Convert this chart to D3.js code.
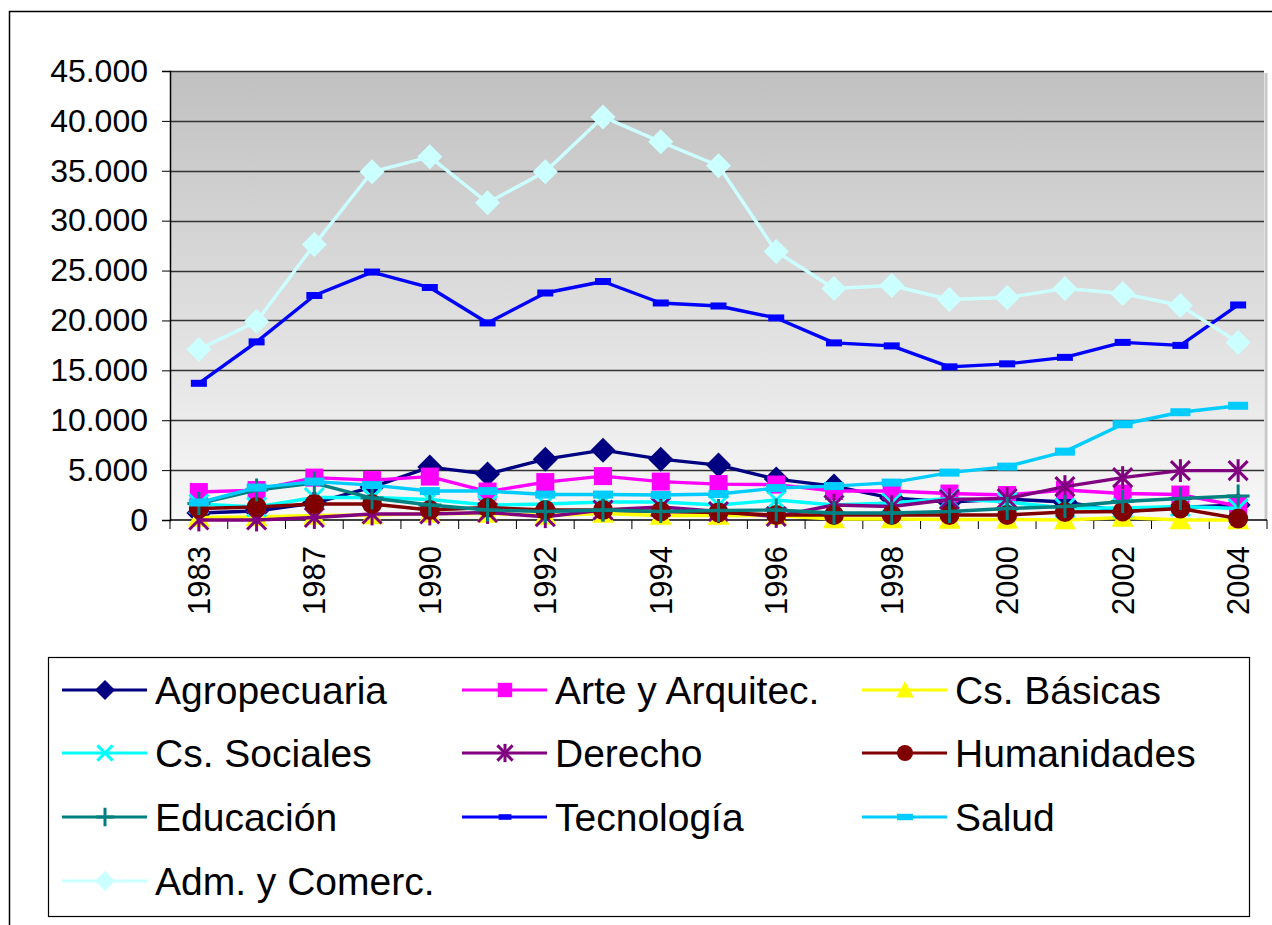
<!DOCTYPE html>
<html>
<head>
<meta charset="utf-8">
<script src="https://cdn.jsdelivr.net/npm/d3@7"></script>
<style>
  body { margin: 0; background: #fff; }
  svg { display: block; font-family: "Liberation Sans", Arial, sans-serif; }
</style>
</head>
<body>
<svg width="1272" height="925"></svg>
<script>

//
// Data (matriculados por area)
//
var years = ['1983', '1985', '1987', '1989', '1990', '1991', '1992', '1993', '1994', '1995',
             '1996', '1997', '1998', '1999', '2000', '2001', '2002', '2003', '2004'];

var yTicks = [0, 5000, 10000, 15000, 20000, 25000, 30000, 35000, 40000, 45000];

var agropecuaria = [700, 900, 1700, 3300, 5300, 4600, 6100, 7000, 6100, 5500, 4100, 3400, 2200, 1800, 2100, 1800, 850, 1250, 1500];
var arte         = [2800, 3000, 4250, 4000, 4350, 2850, 3800, 4400, 3850, 3600, 3550, 2900, 2900, 2650, 2500, 3000, 2650, 2550, 1400];
var basicas      = [250, 300, 450, 500, 650, 650, 450, 650, 450, 450, 450, 100, 100, 50, 50, 0, 250, 0, 0];
var sociales     = [1600, 1300, 2250, 2250, 2050, 1500, 1600, 1800, 1800, 1500, 2000, 1500, 1700, 2150, 1800, 1200, 1200, 1350, 1150];
var derecho      = [0, 0, 250, 600, 600, 750, 330, 1000, 1300, 850, 350, 1500, 1350, 2050, 2150, 3350, 4250, 4950, 4950];
var humanidades  = [1150, 1300, 1600, 1600, 1000, 1250, 1000, 1000, 850, 750, 500, 500, 500, 500, 500, 800, 850, 1150, 150];
var educacion    = [1650, 3000, 3700, 2200, 1500, 1000, 850, 1000, 850, 950, 1000, 700, 700, 850, 1150, 1350, 1850, 2150, 2400];
var tecnologia   = [13700, 17850, 22500, 24850, 23300, 19750, 22750, 23900, 21750, 21450, 20250, 17750, 17450, 15350, 15650, 16300, 17800, 17500, 21550];
var salud        = [1750, 3250, 3850, 3500, 2900, 2900, 2550, 2550, 2500, 2600, 3200, 3400, 3750, 4750, 5350, 6850, 9600, 10800, 11450];
var administ     = [17100, 19900, 27600, 34900, 36400, 31800, 34900, 40400, 37900, 35500, 26900, 23200, 23500, 22100, 22300, 23200, 22700, 21500, 17800];

var series = [
  {name: 'Agropecuaria',      values: agropecuaria, color: '#000080', marker: 'diamond'},
  {name: 'Arte y Arquitec.',  values: arte,         color: '#FF00FF', marker: 'square'},
  {name: 'Cs. Básicas',       values: basicas,      color: '#FFFF00', marker: 'triangle'},
  {name: 'Cs. Sociales',      values: sociales,     color: '#00FFFF', marker: 'x'},
  {name: 'Derecho',           values: derecho,      color: '#800080', marker: 'star'},
  {name: 'Humanidades',       values: humanidades,  color: '#800000', marker: 'circle'},
  {name: 'Educación',         values: educacion,    color: '#008080', marker: 'plus'},
  {name: 'Tecnología',        values: tecnologia,   color: '#0000FF', marker: 'dash'},
  {name: 'Salud',             values: salud,        color: '#00CCFF', marker: 'bar'},
  {name: 'Adm. y Comerc.',    values: administ,     color: '#CCFFFF', marker: 'diamond'}
];

var svg = d3.select('svg');

var plot = {left: 170, right: 1267, top: 71, bottom: 520};

var x = d3.scaleBand()
    .domain(years)
    .range([plot.left, plot.right]);

var y = d3.scaleLinear()
    .domain([0, 45000])
    .range([plot.bottom, plot.top]);

var fmt = d3.formatLocale({decimal: ',', thousands: '.', grouping: [3], currency: ['', '']}).format(',');

// outer frame of the chart object
svg.append('rect')
    .attr('x', 9.5).attr('y', 11.5)
    .attr('width', 1400).attr('height', 1000)
    .attr('fill', 'none')
    .attr('stroke', '#000')
    .attr('stroke-width', 1.5);

//
// Plot area background, gray at top fading to white
//
var grad = svg.append('defs').append('linearGradient')
    .attr('id', 'bg')
    .attr('x1', 0).attr('y1', 0).attr('x2', 0).attr('y2', 1);
grad.append('stop').attr('offset', '0%').attr('stop-color', '#c0c0c0');
grad.append('stop').attr('offset', '100%').attr('stop-color', '#f8f8f8');

svg.append('rect')
    .attr('x', plot.left).attr('y', plot.top)
    .attr('width', plot.right - 3 - plot.left)
    .attr('height', plot.bottom - plot.top)
    .attr('fill', 'url(#bg)');

// little shadow on the right side
svg.append('line')
    .attr('x1', plot.right - 1).attr('x2', plot.right - 1)
    .attr('y1', plot.top + 2).attr('y2', plot.bottom)
    .attr('stroke', '#c8c8c8')
    .attr('stroke-width', 3);

// gridlines
svg.append('g')
  .selectAll('line')
  .data(yTicks.slice(1))
  .enter().append('line')
    .attr('x1', plot.left).attr('x2', plot.right - 3)
    .attr('y1', function(d) { return Math.round(y(d)) + 0.5; })
    .attr('y2', function(d) { return Math.round(y(d)) + 0.5; })
    .attr('stroke', '#333')
    .attr('stroke-width', 1.3);

//
// Axes
//
var yAxis = svg.append('g')
    .attr('transform', 'translate(' + plot.left + ',0)')
    .call(d3.axisLeft(y).tickValues(yTicks).tickFormat(fmt).tickSize(8).tickPadding(14));

yAxis.select('.domain').attr('stroke', '#000').attr('stroke-width', 1.5);
yAxis.selectAll('.tick line').attr('stroke', '#000');
yAxis.selectAll('.tick text')
    .attr('font-size', 32)
    .attr('fill', '#000')
    .attr('font-family', '"Liberation Sans", Arial, sans-serif');

var xAxis = svg.append('g')
    .attr('transform', 'translate(0,' + plot.bottom + ')');

xAxis.append('line')
    .attr('x1', plot.left).attr('x2', plot.right)
    .attr('y1', 0).attr('y2', 0)
    .attr('stroke', '#000')
    .attr('stroke-width', 1.5);

// tick marks sit between the categories
xAxis.selectAll('.xtick')
  .data(years.concat(['end']))
  .enter().append('line')
    .attr('class', 'xtick')
    .attr('x1', function(d, i) { return plot.left + i * x.step(); })
    .attr('x2', function(d, i) { return plot.left + i * x.step(); })
    .attr('y1', 0).attr('y2', 9)
    .attr('stroke', '#000');

xAxis.selectAll('.xlabel')
  .data(years.filter(function(d, i) { return i % 2 == 0; }))
  .enter().append('text')
    .attr('class', 'xlabel')
    .attr('transform', function(d) {
      return 'translate(' + (x(d) + x.bandwidth() / 2) + ',26) rotate(-90)';
    })
    .attr('dy', '0.35em')
    .attr('text-anchor', 'end')
    .attr('font-size', 31)
    .attr('fill', '#000')
    .text(function(d) { return d; });

//
// Marker shapes, sized like the excel ones
//
function drawMarker(g, type, color, k) {
  var s = 10 * k;
  if (type == 'diamond') {
    s = 12.5 * k;
    g.append('path').attr('d', 'M0,' + -s + 'L' + s + ',0L0,' + s + 'L' + -s + ',0Z').attr('fill', color);
  } else if (type == 'square') {
    s = 9 * k;
    g.append('rect').attr('x', -s).attr('y', -s).attr('width', 2 * s).attr('height', 2 * s).attr('fill', color);
  } else if (type == 'triangle') {
    s = 11 * k;
    g.append('path').attr('d', 'M0,' + -s + 'L' + s + ',' + s * 0.85 + 'L' + -s + ',' + s * 0.85 + 'Z').attr('fill', color);
  } else if (type == 'x' || type == 'star') {
    s = 9.5 * k;
    g.append('path').attr('d', 'M' + -s + ',' + -s + 'L' + s + ',' + s + 'M' + s + ',' + -s + 'L' + -s + ',' + s)
        .attr('stroke', color).attr('stroke-width', 3);
    if (type == 'star') {
      g.append('path').attr('d', 'M0,' + (-s * 1.2) + 'L0,' + (s * 1.2)).attr('stroke', color).attr('stroke-width', 3);
    }
  } else if (type == 'circle') {
    g.append('circle').attr('r', 10 * k).attr('fill', color);
  } else if (type == 'plus') {
    s = 11.5 * k;
    g.append('path').attr('d', 'M0,' + -s + 'L0,' + s + 'M' + -s + ',0L' + s + ',0')
        .attr('stroke', color).attr('stroke-width', 3);
  } else if (type == 'dash') {
    g.append('rect').attr('x', -8 * k).attr('y', -3.5 * k).attr('width', 16 * k).attr('height', 7 * k).attr('fill', color);
  } else if (type == 'bar') {
    g.append('rect').attr('x', -10 * k).attr('y', -4 * k).attr('width', 20 * k).attr('height', 8 * k).attr('fill', color);
  }
}

//
// Series lines and markers
//
var line = d3.line()
    .x(function(d, i) { return x(years[i]) + x.bandwidth() / 2; })
    .y(function(d) { return y(d); });

series.forEach(function(s) {
  var g = svg.append('g').attr('class', 'series');

  g.append('path')
      .datum(s.values)
      .attr('d', line)
      .attr('fill', 'none')
      .attr('stroke', s.color)
      .attr('stroke-width', 3.4)
      .attr('stroke-linejoin', 'round');

  g.selectAll('.pt')
    .data(s.values)
    .enter().append('g')
      .attr('class', 'pt')
      .attr('transform', function(d, i) {
        return 'translate(' + (x(years[i]) + x.bandwidth() / 2) + ',' + y(d) + ')';
      })
      .each(function() { drawMarker(d3.select(this), s.marker, s.color, 1); });
});

//
// Legend, three columns
//
var legend = svg.append('g');

legend.append('rect')
    .attr('x', 48.5).attr('y', 657.5)
    .attr('width', 1201).attr('height', 259)
    .attr('fill', '#fff')
    .attr('stroke', '#000')
    .attr('stroke-width', 1.2);

var colX = [62, 462, 862];
var rowY = [690, 753, 817, 881];

series.forEach(function(s, i) {
  var lx = colX[i % 3],
      ly = rowY[Math.floor(i / 3)];
  var item = legend.append('g').attr('transform', 'translate(' + lx + ',' + ly + ')');

  item.append('line')
      .attr('x1', 0).attr('x2', 85)
      .attr('stroke', s.color)
      .attr('stroke-width', 3);

  var m = item.append('g').attr('transform', 'translate(43,0)');
  drawMarker(m, s.marker, s.color, 0.8);

  item.append('text')
      .attr('x', 93)
      .attr('dy', '0.36em')
      .attr('font-size', 39)
      .attr('fill', '#000')
      .text(s.name);
});

</script>
</body>
</html>
